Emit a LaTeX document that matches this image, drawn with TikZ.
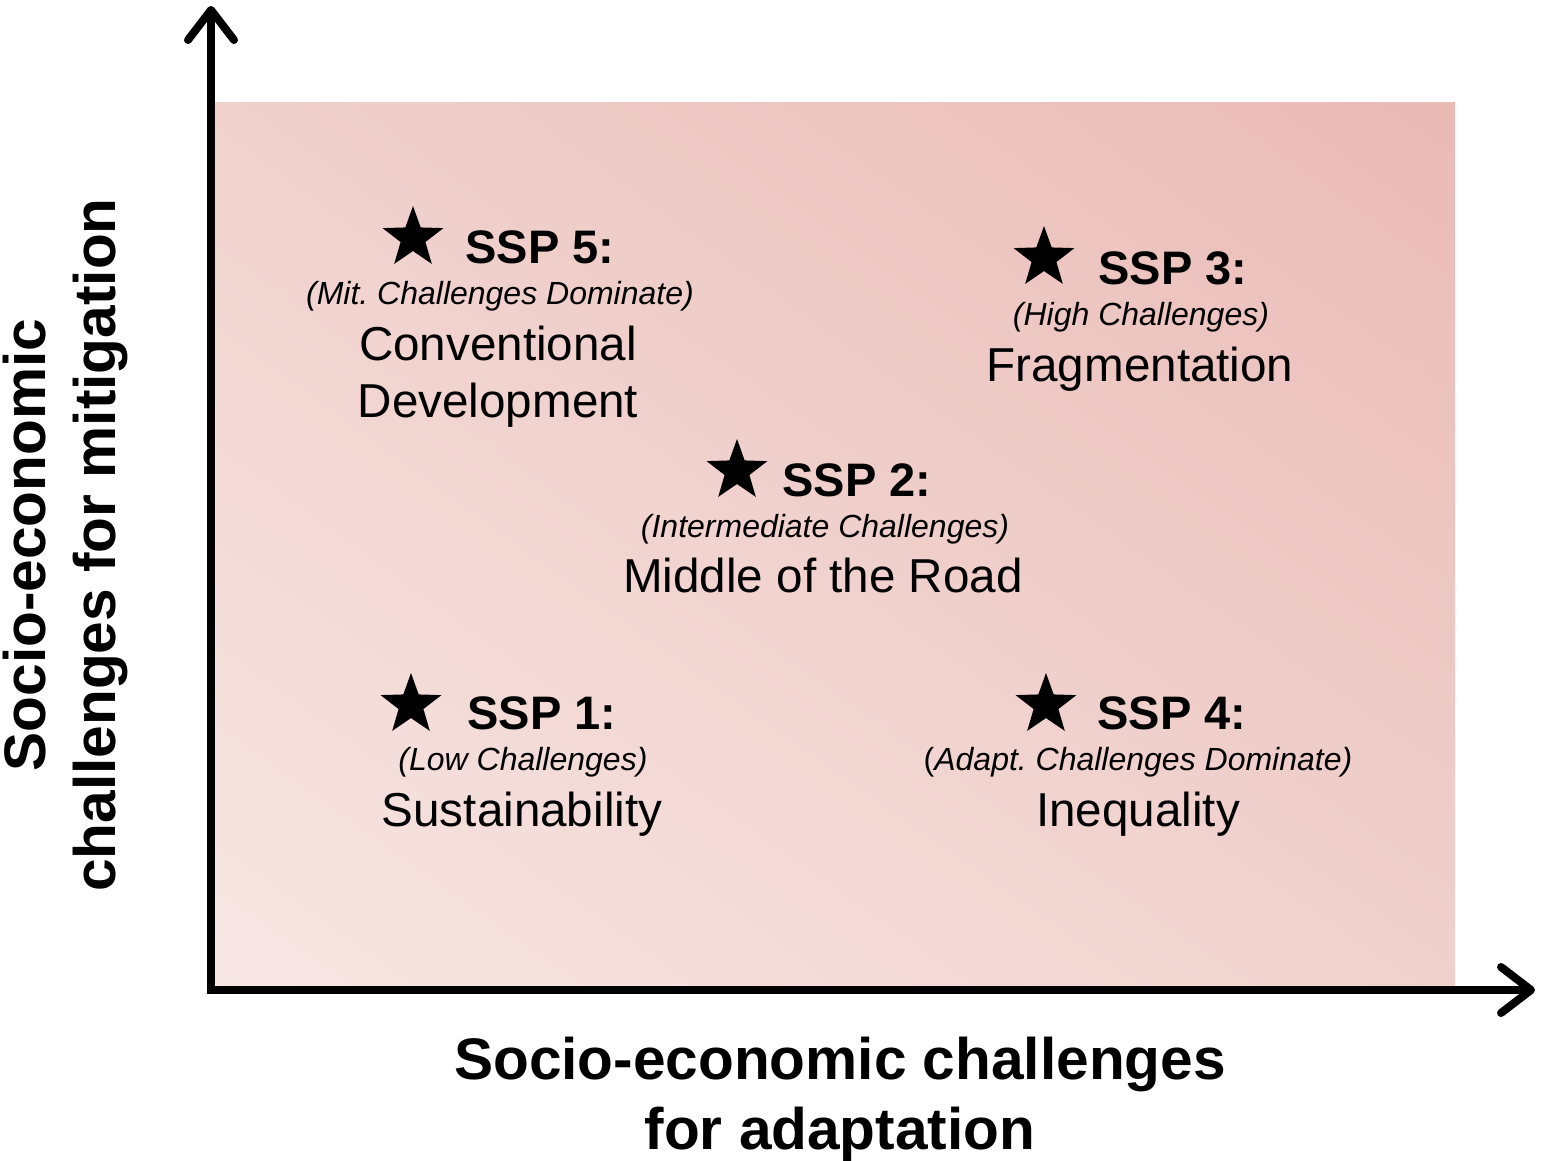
\documentclass[tikz,border=0pt]{standalone}
\usepackage{fontspec}
\setmainfont{Liberation Sans}
\usetikzlibrary{arrows.meta,shapes.geometric,shadings}

\definecolor{pinklo}{RGB}{247,231,228}
\definecolor{pinkmid}{RGB}{240,209,205}
\definecolor{pinkhi}{RGB}{234,186,181}

\tikzset{
  axistip/.tip={Straight Barb[length=15pt,width=23pt,round]},
  axisline/.style={line width=4pt, line join=miter, axistip-axistip},
  sspstar/.style={star, star points=5, star point ratio=2.45, fill=black, inner sep=0pt, minimum size=32pt},
  ssptitle/.style={anchor=base west, inner sep=0pt, font=\fontsize{23.5}{28}\selectfont\bfseries},
  sspsub/.style={anchor=base, inner sep=0pt, font=\fontsize{16}{19}\selectfont\itshape},
  sspname/.style={anchor=base, inner sep=0pt, font=\fontsize{23.8}{28.5}\selectfont},
  axislabel/.style={align=center, inner sep=0pt, font=\fontsize{29.3}{35}\selectfont\bfseries}
}

\begin{document}
\frenchspacing
\begin{tikzpicture}[x=0.5pt,y=-0.5pt]
\useasboundingbox (0,0) rectangle (1542,1161);

% background field
\shade[lower left=pinklo, upper right=pinkhi, upper left=pinkmid, lower right=pinkmid]
  (215,103) rectangle (1455,986);

% axes
\coordinate (origin) at (211,990);
\coordinate (ytip) at (211,6);
\coordinate (xtip) at (1535,990);
\draw[axisline] (ytip) -- (origin) -- (xtip);

\node[axislabel] (xlabel) at (840,1099) {Socio-economic challenges\\for adaptation};
\node[axislabel, rotate=90] (ylabel) at (65,545) {Socio-economic\\challenges for mitigation};

% SSP 5
\node[sspstar] (star5) at (413,238) {};
\node[ssptitle] (ssp5) at (465,263) {SSP 5:};
\node[sspsub] (sub5) at (500,304) {(Mit. Challenges Dominate)};
\node[sspname] (name5) at (498,360) {Conventional};
\node[sspname] (name5b) at (498,417) {Development};

% SSP 3
\node[sspstar] (star3) at (1044,258) {};
\node[ssptitle] (ssp3) at (1098,284) {SSP 3:};
\node[sspsub] (sub3) at (1141,325) {(High Challenges)};
\node[sspname] (name3) at (1140,381) {Fragmentation};

% SSP 2
\node[sspstar] (star2) at (737,471) {};
\node[ssptitle] (ssp2) at (782,496) {SSP 2:};
\node[sspsub] (sub2) at (825,537) {(Intermediate Challenges)};
\node[sspname] (name2) at (823,592) {Middle of the Road};

% SSP 1
\node[sspstar] (star1) at (411,705) {};
\node[ssptitle] (ssp1) at (467,729) {SSP 1:};
\node[sspsub] (sub1) at (523,770) {(Low Challenges)};
\node[sspname] (name1) at (522,826) {Sustainability};

% SSP 4
\node[sspstar] (star4) at (1046,705) {};
\node[ssptitle] (ssp4) at (1097,729) {SSP 4:};
\node[sspsub] (sub4) at (1138,770) {\upshape(\itshape Adapt. Challenges Dominate)};
\node[sspname] (name4) at (1138,826) {Inequality};
\end{tikzpicture}
\end{document}
